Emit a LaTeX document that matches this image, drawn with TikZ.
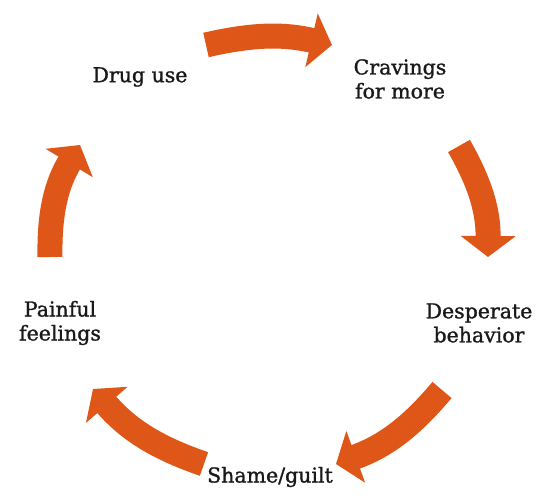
\documentclass[tikz,border=0pt]{standalone}
\usepackage{fontspec}
\setmainfont{DejaVu Serif}
\newfontfamily\stagefont{DejaVu Serif}[FakeBold=1.2]
\usetikzlibrary{arrows.meta}
\definecolor{cycleorange}{RGB}{222,86,24}

\begin{document}
\begin{tikzpicture}[x=1pt,y=1pt,
    stage/.style={font=\stagefont\fontsize{20.5}{24}\selectfont, text=black!90, align=center, inner sep=0pt},
    cyclearrow/.style={draw=cycleorange, line width=25pt, -{Triangle[width=54pt,length=21pt]}},
    ]
    \fill[white] (0,0) rectangle (550,-502);
    \useasboundingbox (0,0) rectangle (550,-502);

    % stages
    \node[stage] (drug)  at (140,-77)  {Drug use};
    \node[stage] (crave) at (400,-79)  {Cravings\\for more};
    \node[stage] (desp)  at (479,-323) {Desperate\\behavior};
    \node[stage] (shame) at (270,-477) {Shame/guilt};
    \node[stage] (pain)  at (60,-323)  {Painful\\feelings};

    % arrow ends
    \coordinate (drugout)  at (206,-45);
    \coordinate (cravein)  at (332,-45);
    \coordinate (craveout) at (459,-146);
    \coordinate (despin)   at (488,-257);
    \coordinate (despout)  at (442,-390);
    \coordinate (shamein)  at (336,-464);
    \coordinate (shameout) at (204,-464);
    \coordinate (painin)   at (93,-389);
    \coordinate (painout)  at (50,-257);
    \coordinate (drugin)   at (80,-145);

    \draw[cyclearrow] (drugout)  to[bend left=13] (cravein);
    \draw[cyclearrow] (craveout) to[bend left=15] (despin);
    \draw[cyclearrow] (despout)  to[bend left=15] (shamein);
    \draw[cyclearrow] (shameout) to[bend left=15] (painin);
    \draw[cyclearrow] (painout)  to[bend left=16] (drugin);
\end{tikzpicture}
\end{document}
